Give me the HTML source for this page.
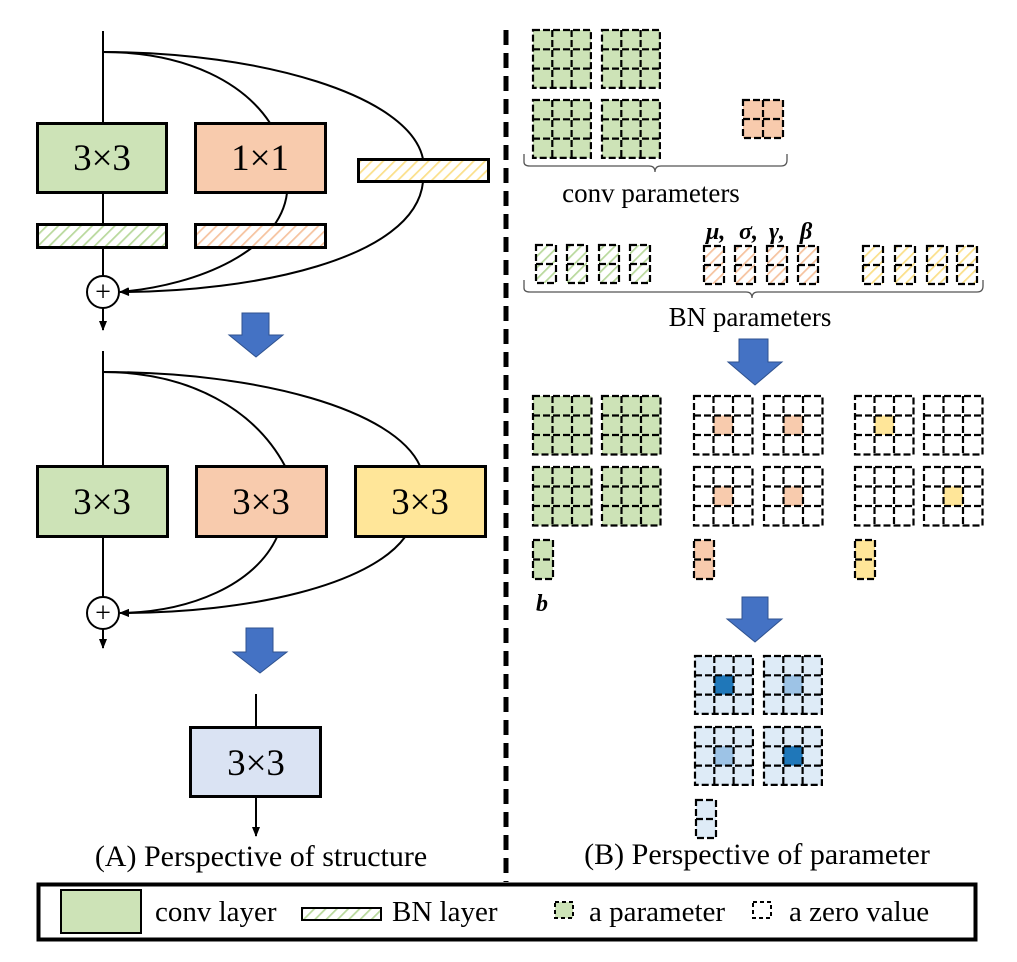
<!DOCTYPE html>
<html><head><meta charset="utf-8"><style>
html,body{margin:0;padding:0;background:#fff;}
svg{display:block;}
text{font-family:"Liberation Serif","Times New Roman",serif;}
</style></head><body>
<svg id="s" width="1017" height="962" viewBox="0 0 1017 962" xmlns="http://www.w3.org/2000/svg" font-family="Liberation Serif, serif">
<defs>
<pattern id="hg" width="8" height="8" patternUnits="userSpaceOnUse" patternTransform="rotate(45)"><rect width="8" height="8" fill="#fff"/><line x1="0" y1="0" x2="0" y2="8" stroke="#b9d99d" stroke-width="3.5"/></pattern>
<pattern id="ho" width="8" height="8" patternUnits="userSpaceOnUse" patternTransform="rotate(45)"><rect width="8" height="8" fill="#fff"/><line x1="0" y1="0" x2="0" y2="8" stroke="#f6c3a0" stroke-width="3.5"/></pattern>
<pattern id="hy" width="8" height="8" patternUnits="userSpaceOnUse" patternTransform="rotate(45)"><rect width="8" height="8" fill="#fff"/><line x1="0" y1="0" x2="0" y2="8" stroke="#fbe08a" stroke-width="3.5"/></pattern>
<marker id="ar" markerWidth="10" markerHeight="10" refX="9" refY="5" orient="auto" markerUnits="userSpaceOnUse"><path d="M0,1 L10,5 L0,9 z" fill="#000"/></marker>
</defs>

<line x1="506" y1="30" x2="506" y2="882" stroke="#000" stroke-width="5" stroke-dasharray="15,8"/>

<!-- Block 1 -->
<g fill="none" stroke="#000" stroke-width="2">
<line x1="103" y1="31" x2="103" y2="123"/>
<line x1="103" y1="193" x2="103" y2="224"/>
<line x1="103" y1="248" x2="103" y2="276"/>
<path d="M103,52 C190,52 245,85 270,123"/>
<path d="M103,52 C260,52 410,95 423,159"/>
<path d="M287,193 C280,250 200,285 120,292" marker-end="url(#ar)"/>
<path d="M423,182 C415,260 250,292 120,292" marker-end="url(#ar)"/>
<line x1="103" y1="308" x2="103" y2="330" marker-end="url(#ar)"/>
</g>
<rect x="37.5" y="123.5" width="129" height="69" fill="#cde3b7" stroke="#000" stroke-width="3"/>
<rect x="195.5" y="123.5" width="130" height="69" fill="#f8cbad" stroke="#000" stroke-width="3"/>
<rect x="358.5" y="159.5" width="130" height="22" fill="url(#hy)" stroke="#000" stroke-width="3"/>
<rect x="37.5" y="224.5" width="129" height="23" fill="url(#hg)" stroke="#000" stroke-width="3"/>
<rect x="195.5" y="224.5" width="130" height="23" fill="url(#ho)" stroke="#000" stroke-width="3"/>
<text x="102" y="170" font-size="37" text-anchor="middle">3×3</text>
<text x="260" y="170" font-size="37" text-anchor="middle">1×1</text>
<circle cx="103" cy="292" r="16" fill="#fff" stroke="#000" stroke-width="2"/>
<text x="103" y="301" font-size="28" text-anchor="middle">+</text>

<polygon points="242,313 269,313 269,335 283,335 256,357 229,335 242,335" fill="#4472c4" stroke="#2f528f" stroke-width="1"/>

<!-- Block 2 -->
<g fill="none" stroke="#000" stroke-width="2">
<line x1="103" y1="351" x2="103" y2="466"/>
<line x1="103" y1="537" x2="103" y2="597"/>
<path d="M103,372 C190,372 255,410 285,466"/>
<path d="M103,372 C260,372 395,410 420,466"/>
<path d="M277,537 C255,585 190,612 120,613" marker-end="url(#ar)"/>
<path d="M405,537 C370,585 250,613 120,613" marker-end="url(#ar)"/>
<line x1="103" y1="629" x2="103" y2="648" marker-end="url(#ar)"/>
</g>
<rect x="37.5" y="466.5" width="130" height="70" fill="#cde3b7" stroke="#000" stroke-width="3"/>
<rect x="196.5" y="466.5" width="130" height="70" fill="#f8cbad" stroke="#000" stroke-width="3"/>
<rect x="355.5" y="466.5" width="130" height="70" fill="#ffe699" stroke="#000" stroke-width="3"/>
<text x="102" y="514" font-size="37" text-anchor="middle">3×3</text>
<text x="261" y="514" font-size="37" text-anchor="middle">3×3</text>
<text x="420" y="514" font-size="37" text-anchor="middle">3×3</text>
<circle cx="103" cy="613" r="16" fill="#fff" stroke="#000" stroke-width="2"/>
<text x="103" y="622" font-size="28" text-anchor="middle">+</text>

<polygon points="246,628 273,628 273,652 287,652 260,673 233,652 246,652" fill="#4472c4" stroke="#2f528f" stroke-width="1"/>

<line x1="256" y1="694" x2="256" y2="727" stroke="#000" stroke-width="2"/>
<rect x="190.5" y="727.5" width="130" height="69" fill="#dae3f3" stroke="#000" stroke-width="3"/>
<text x="256" y="775" font-size="37" text-anchor="middle">3×3</text>
<line x1="256" y1="798" x2="256" y2="836" stroke="#000" stroke-width="2" marker-end="url(#ar)"/>
<text x="261" y="866" font-size="30" text-anchor="middle">(A) Perspective of structure</text>
<text x="757" y="864" font-size="30" text-anchor="middle">(B) Perspective of parameter</text>

<g id="grids"></g>

<path d="M524,154 L524,162 Q524,166 530,166 L649,166 Q655,166 655,172 Q655,166 661,166 L781,166 Q787,166 787,160 L787,154" fill="none" stroke="#555" stroke-width="1.3"/>
<text x="651" y="202" font-size="27" text-anchor="middle">conv parameters</text>
<path d="M524,280 L524,288 Q524,292 530,292 L746,292 Q752,292 752,298 Q752,292 758,292 L977,292 Q983,292 983,286 L983,280" fill="none" stroke="#555" stroke-width="1.3"/>
<text x="750" y="326" font-size="27" text-anchor="middle">BN parameters</text>
<g font-size="24" font-weight="bold" font-style="italic">
<text x="706" y="239">μ,</text><text x="739" y="239">σ,</text><text x="769" y="239">γ,</text><text x="800" y="239">β</text>
<text x="536" y="611">b</text>
</g>

<polygon points="739,339 768,339 768,362 782,362 755,385 728,362 739,362" fill="#4472c4" stroke="#2f528f" stroke-width="1"/>
<polygon points="742,597 768,597 768,619 782,619 755,642 727,619 742,619" fill="#4472c4" stroke="#2f528f" stroke-width="1"/>

<rect x="38.5" y="884.5" width="937" height="55" fill="none" stroke="#000" stroke-width="4"/>
<rect x="61" y="890" width="80" height="43" fill="#cde3b7" stroke="#000" stroke-width="2"/>
<text x="155" y="921" font-size="29">conv layer</text>
<rect x="302" y="908" width="79" height="12" fill="url(#hg)" stroke="#000" stroke-width="2"/>
<text x="392" y="921" font-size="29">BN layer</text>
<rect x="555" y="902" width="18" height="16" fill="#cde3b7" stroke="#000" stroke-width="2" stroke-dasharray="4,3"/>
<text x="589" y="921" font-size="29">a parameter</text>
<rect x="753" y="902" width="18" height="16" fill="#fff" stroke="#000" stroke-width="2" stroke-dasharray="4,3"/>
<text x="789" y="921" font-size="29">a zero value</text>
</svg>
<script>
(function(){
var g=document.getElementById('grids'),NS='http://www.w3.org/2000/svg';
function el(n,a){var e=document.createElementNS(NS,n);for(var k in a)e.setAttribute(k,a[k]);g.appendChild(e);return e;}
function grid(x,y,cols,rows,cw,ch,fill,center,cfill){
 el('rect',{x:x,y:y,width:cols*cw,height:rows*ch,fill:fill});
 if(center)el('rect',{x:x+cw,y:y+ch,width:cw,height:ch,fill:cfill});
 var st={stroke:'#000','stroke-width':2.2,'stroke-dasharray':'7,3',fill:'none'};
 for(var i=1;i<cols;i++)el('line',Object.assign({x1:x+i*cw,y1:y,x2:x+i*cw,y2:y+rows*ch},st));
 for(var j=1;j<rows;j++)el('line',Object.assign({x1:x,y1:y+j*ch,x2:x+cols*cw,y2:y+j*ch},st));
 el('rect',Object.assign({x:x,y:y,width:cols*cw,height:rows*ch},st));
}
var G='#cde3b7',O='#f8cbad',Y='#ffe699',B='#deebf7';
[[533,30],[602,30],[533,100],[602,100]].forEach(function(p){grid(p[0],p[1],3,3,19.3,19.3,G);});
grid(743,100,2,2,20,19,O);
[536,567,599,630].forEach(function(x){grid(x,245,1,2,20,19,'url(#hg)');});
[704,735,767,798].forEach(function(x){grid(x,246,1,2,20,19,'url(#ho)');});
[863,895,927,957].forEach(function(x){grid(x,246,1,2,20,19,'url(#hy)');});
[[533,396],[602,396],[533,467],[602,467]].forEach(function(p){grid(p[0],p[1],3,3,19.5,19.5,G);});
[[694,396],[764,396],[694,467],[764,467]].forEach(function(p){grid(p[0],p[1],3,3,19.5,19.5,'#fff',true,O);});
grid(855,396,3,3,19.5,19.5,'#fff',true,Y);
grid(924,396,3,3,19.5,19.5,'#fff');
grid(855,467,3,3,19.5,19.5,'#fff');
grid(924,467,3,3,19.5,19.5,'#fff',true,Y);
grid(533,540,1,2,20,19.5,G);grid(694,540,1,2,20,19.5,O);grid(855,540,1,2,20,19.5,Y);
grid(695,656,3,3,19.3,19.3,B,true,'#1f77b9');
grid(764,656,3,3,19.3,19.3,B,true,'#9dc3e6');
grid(695,727,3,3,19.3,19.3,B,true,'#9dc3e6');
grid(764,727,3,3,19.3,19.3,B,true,'#1f77b9');
grid(696,800,1,2,20,19,B);
})();
</script>
</body></html>
